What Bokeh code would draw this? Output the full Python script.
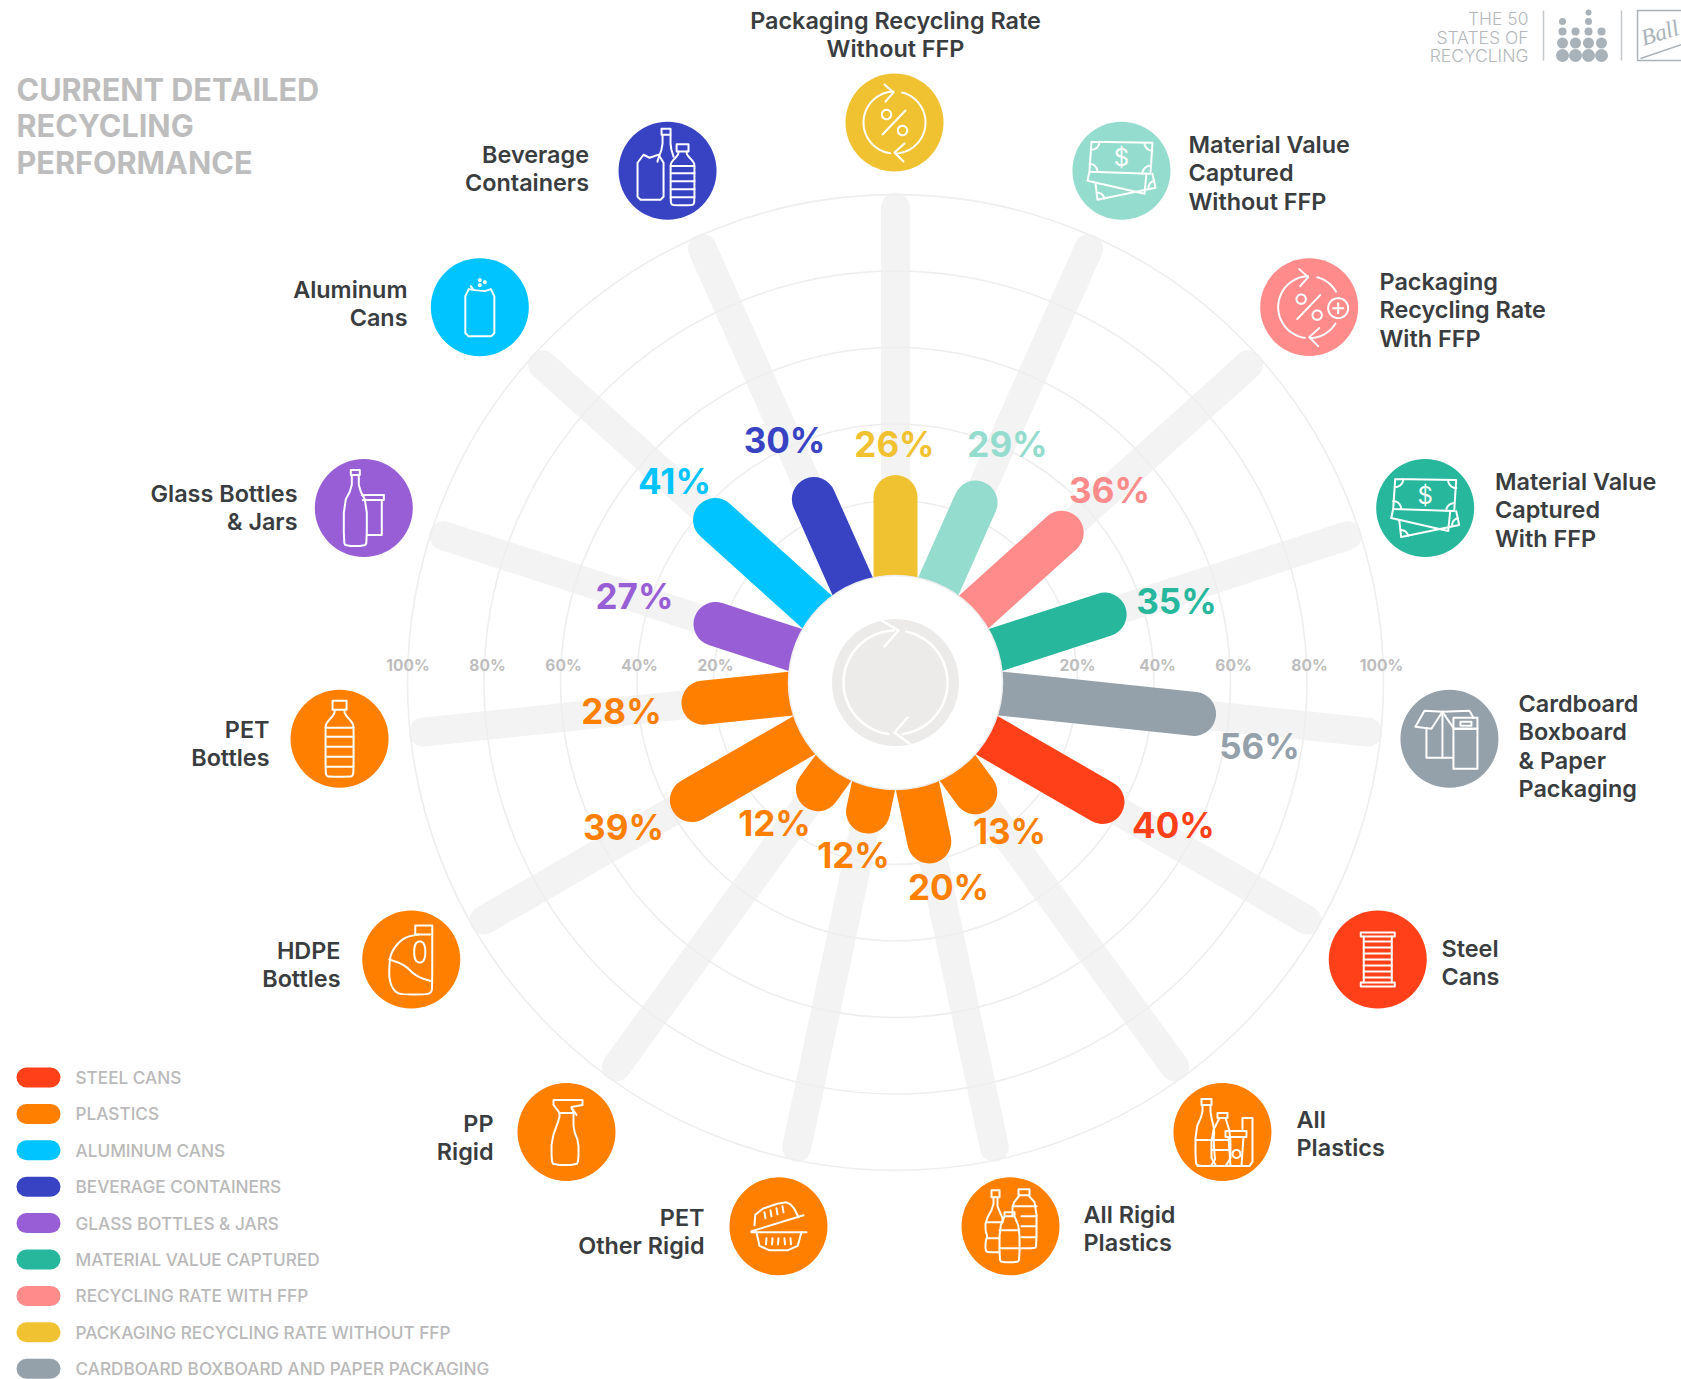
import math
from bokeh.plotting import figure
from bokeh.models import Range1d
from bokeh.core.properties import value
from bokeh.embed import file_html
from bokeh.resources import INLINE

# ---------- data ----------
categories = ["Packaging Recycling Rate\nWithout FFP", "Material Value\nCaptured\nWithout FFP",
              "Packaging\nRecycling Rate\nWith FFP", "Material Value\nCaptured\nWith FFP",
              "Cardboard\nBoxboard\n& Paper\nPackaging", "Steel\nCans", "All\nPlastics",
              "All Rigid\nPlastics", "PET\nOther Rigid", "PP\nRigid", "HDPE\nBottles", "PET\nBottles",
              "Glass Bottles\n& Jars", "Aluminum\nCans", "Beverage\nContainers"]
values = [26, 29, 36, 35, 56, 40, 13, 20, 12, 12, 39, 28, 27, 41, 30]
colors = ["#f0c232", "#94dccd", "#ff8b8b", "#26b79c", "#94a1ab", "#ff4018", "#ff7f00", "#ff7f00",
          "#ff7f00", "#ff7f00", "#ff7f00", "#ff7f00", "#985ed6", "#00c4ff", "#3843c4"]
ring_ticks = [20, 40, 60, 80, 100]
legend_names = ["STEEL CANS", "PLASTICS", "ALUMINUM CANS", "BEVERAGE CONTAINERS", "GLASS BOTTLES & JARS",
                "MATERIAL VALUE CAPTURED", "RECYCLING RATE WITH FFP", "PACKAGING RECYCLING RATE WITHOUT FFP",
                "CARDBOARD BOXBOARD AND PAPER PACKAGING"]
legend_colors = ["#ff4018", "#ff7f00", "#00c4ff", "#3843c4", "#985ed6", "#26b79c", "#ff8b8b", "#f0c232", "#94a1ab"]
title_lines = ["CURRENT DETAILED", "RECYCLING", "PERFORMANCE"]
logo_lines = ["THE 50", "STATES OF", "RECYCLING"]

# ---------- layout ----------
CX, CY = 895, 682
R0, PER = 105.5, 3.825
ICON_CX, ICON_CY, ICON_R = 894, 680, 558
STEP = 24
BAR_PAD = 2.5
def rad(v): return R0 + PER * v
def polar(angle, r, cx=CX, cy=CY):
    t = math.radians(angle)
    return cx + r * math.sin(t), cy - r * math.cos(t)

value_label_xy = [(894, 443.5), (1007, 443.5), (1109, 489), (1176, 600), (1259, 745), (1173, 824), (1009, 830),
                  (948, 886), (853, 854), (774, 822), (623, 826), (621, 710), (634, 595), (674, 480), (784, 439)]
tick_left_x = [715, 639, 563, 487, 407.5]
tick_right_x = [1077, 1157, 1233, 1309, 1381]
# (x anchor, align, y of first line)
cat_anchor = [(895, "center", 19.5), (1188, "left", 144), (1379, "left", 281), (1494.5, "left", 481),
              (1518, "left", 703), (1441, "left", 948), (1296, "left", 1119), (1083, "left", 1214),
              (704, "right", 1217), (493, "right", 1123), (340, "right", 950), (269, "right", 729),
              (297, "right", 493), (407, "right", 288.5), (588.5, "right", 154)]

p = figure(width=1681, height=1379, x_range=Range1d(0, 1681), y_range=Range1d(1379, 0),
           output_backend="svg", toolbar_location=None, min_border=0)
p.axis.visible = False
p.grid.visible = False
p.outline_line_color = None
p.background_fill_color = "#ffffff"

FONT = value("Inter")
angles = [i * STEP for i in range(len(values))]

# tracks
tx0, ty0 = zip(*[polar(a, 60) for a in angles])
tx1, ty1 = zip(*[polar(a, rad(100) - 13) for a in angles])
p.segment(tx0, ty0, tx1, ty1, line_color="#f4f3f3", line_width=29, line_cap="round")
# rings
p.circle([CX] * 5, [CY] * 5, radius=[rad(t) for t in ring_ticks], fill_color=None,
         line_color="#efeeee", line_width=1.6)
# bars
bx0, by0 = zip(*[polar(a, 60) for a in angles])
bx1, by1 = zip(*[polar(a, rad(v) + BAR_PAD - 22) for a, v in zip(angles, values)])
p.segment(bx0, by0, bx1, by1, line_color=colors, line_width=44, line_cap="round")
# centre
p.circle([CX], [CY], radius=[107], fill_color="#ffffff", line_color="#eeeeee", line_width=1.5)
p.circle([CX], [CY], radius=[63.5], fill_color="#ecebea", line_color=None)

# ring tick labels
tick_txt = [f"{t}%" for t in ring_ticks]
p.text(tick_right_x + tick_left_x, [665] * 10,
       text=tick_txt * 2, text_font=FONT, text_font_style="bold", text_font_size="15.5px", text_color="#bdbdbd",
       text_align="center", text_baseline="middle")

# value labels
p.text([q[0] for q in value_label_xy], [q[1] for q in value_label_xy], text=[f"{v}%" for v in values],
       text_color=colors, text_font=FONT, text_font_style="bold", text_font_size="35px",
       text_align="center", text_baseline="middle")

# icons discs
ix, iy = zip(*[polar(a, ICON_R, ICON_CX, ICON_CY) for a in angles])
p.circle(ix, iy, radius=[49] * len(ix), fill_color=colors, line_color=None)

# ---------- icon line art (local px around each disc centre) ----------
def chaikin(pts, n=2, closed=False):
    for _ in range(n):
        out = []
        m = len(pts)
        rng = range(m) if closed else range(m - 1)
        if not closed: out.append(pts[0])
        for i in rng:
            a, b = pts[i], pts[(i + 1) % m]
            out.append((.75 * a[0] + .25 * b[0], .75 * a[1] + .25 * b[1]))
            out.append((.25 * a[0] + .75 * b[0], .25 * a[1] + .75 * b[1]))
        if not closed: out.append(pts[-1])
        pts = out
    if closed: pts = pts + [pts[0]]
    return pts
def rect(x0, y0, x1, y1): return [(x0, y0), (x1, y0), (x1, y1), (x0, y1), (x0, y0)]
def arc(cx, cy, r, a0, a1, n=40):
    return [(cx + r * math.sin(math.radians(a0 + (a1 - a0) * i / n)),
             cy - r * math.cos(math.radians(a0 + (a1 - a0) * i / n))) for i in range(n + 1)]
def T(shapes, dx=0, dy=0, s=1, sy=None):
    sy = s if sy is None else sy
    return [[(dx + x * s, dy + y * sy) for x, y in sh] for sh in shapes]

def water():
    body = chaikin([(-5, -29), (-5, -25), (-13, -16), (-14, -12), (-14, 0), (-14, 33), (-13, 37), (-10, 38), (10, 38), (13, 37),
                    (14, 33), (14, 0), (14, -12), (13, -16), (5, -25), (5, -29)], 1)
    return [rect(-7, -38, 7, -29), body] + [[(-14, y), (14, y)] for y in (-11, -2, 8, 18, 28)]

def loop(plus=False):
    a2 = [arc(0, 0, 31, 15, 60), arc(0, 0, 31, 122, 176)] if plus else [arc(0, 0, 31, 14, 176)]
    out = [arc(0, 0, 31, -2, -172), [(-10, -38), (-1, -30), (-9, -21)], [(10, 21), (0, 30), (9, 39)]] + a2
    out += [arc(-8, -8, 4.7, 0, 360), arc(8, 8, 4.7, 0, 360), [(11, -12), (-12, 12)]]
    if plus:
        out += [arc(29, 1, 10, 0, 360), [(24, 1), (34, 1)], [(29, -4), (29, 6)]]
    return out
def money():
    out = [[(-30, -29), (31, -28), (29, 3), (-32, 1), (-30, -29)],
           [(-32, 1), (-34, 10), (23, 23), (25, 3)],
           [(-26, 12), (-24, 29), (34, 17), (31, 3)]]
    for c, a in (((-30, -29), 90), ((31, -28), 180), ((29, 3), 270), ((-32, 1), 0)):
        out.append(arc(c[0], c[1], 8, a, a + 90, 10))
    out += [arc(-24, 29, 7, 0, 80, 8), arc(34, 17, 7, 270, 350, 8)]
    return out
def cardboard():
    return [[(-34, -12), (-25, -28), (-7, -27), (-18, -10), (-34, -12)], [(-7, -27), (4, -11)],
            [(-7, -27), (20, -28), (24, -21)], [(-23, -11), (-23, 19), (4, 19)], [(-7, -27), (-7, 19)],
            rect(4, -10, 28, 30), rect(4, -21, 28, -10), rect(11, -17, 22, -13)]
def steel():
    return [rect(-17, -27, 17, -23), rect(-17, 23, 17, 27), [(-14, -23), (-14, 23)], [(14, -23), (14, 23)]] + \
           [[(-14, y), (14, y)] for y in (-18, -12, -6, 0, 6, 12, 18)]
def all_plastics():
    big = chaikin([(-20, -27), (-20, -18), (-27, -2), (-27, 30), (-25, 34), (-7, 34), (-9, 8), (-8, -2), (-12, -18), (-12, -27)], 1)
    mid = chaikin([(-3, -14), (-11, 2), (-11, 34), (8, 34), (8, 2), (3, -14)], 1)
    bag = [[(20, -3), (20, -14), (30, -14), (30, 30), (27, 34)]]
    cup = [[(6, -1), (22, -1)], rect(3, -1, 24, 5), [(6, 5), (8, 34)], [(21, 5), (19, 34)], arc(14, 22, 4, 0, 360)]
    return [rect(-21, -33, -11, -27), big, rect(-5, -19, 5, -14), mid, [(-25, 34), (27, 34)], [(-27, 8), (-9, 8)],
            [(-11, 8), (6, 8)], [(-11, 18), (7, 18)]] + bag + cup
def all_rigid():
    left = chaikin([(-17, -29), (-17, -20), (-25, -5), (-25, 5), (-23, 10), (-25, 15), (-25, 24), (-23, 26), (-11, 26)], 1)
    out = [rect(-19, -36, -11, -29), left, [(-13, -29), (-13, -20), (-8, -8), (-8, -4)], [(-24, -4), (-8, -4)], [(-24, 12), (-11, 12)]]
    out += [rect(8, -37, 19, -31), chaikin([(9, -31), (2, -22), (2, -10)], 1), chaikin([(18, -31), (26, -22), (26, 20), (24, 22), (9, 22)], 1),
            [(2, -20), (26, -20)], [(11, -10), (26, -10)], [(11, 0), (26, 0)], [(11, 11), (26, 11)]]
    out += [rect(-6, -14, 4, -10), chaikin([(-6, -10), (-11, 2), (-11, 33), (-9, 36), (7, 36), (9, 33), (9, 2), (4, -10)], 1),
            [(-11, 4), (9, 4)], [(-11, 22), (9, 22)]]
    return out
def pp():
    return [chaikin([(-7, -19), (-7, -14), (-15, 8), (-15, 28), (-13, 33), (10, 33), (12, 28), (12, 10), (7, -2), (7, -19)], 1),
            [(-7, -19), (7, -19)], [(-7, -19), (-13, -27), (-13, -32), (16, -32), (16, -27), (5, -25), (7, -19)],
            [(5, -24), (10, -17)]]
def pet_other():
    out = [[(-27, 6), (28, 6)], chaikin([(-22, 6), (-18, 24), (18, 24), (23, 6)], 1),
           [(-27, 5), (25, -11)], chaikin([(-24, -1), (-23, -15), (6, -25), (14, -21), (20, -9)], 1)]
    out += [[(x, 12), (x + (0.5 if x > 0 else -0.5), 18)] for x in (-12, -6, 0, 6, 12)]
    out += [[(x, -14 - i * 2), (x + 1, -8 - i * 2)] for i, x in enumerate((-14, -8, -2, 4))]
    return out
def hdpe():
    return [rect(4, -34, 21, -25),
            chaikin([(7, -25), (-8, -22), (-20, -8), (-22, 5), (-22, 22), (-16, 33), (-8, 35), (15, 35), (20, 33), (21, 28), (21, -25)], 2),
            chaikin([(3, -18), (14, -18), (14, 3), (3, 3)], 2, closed=True),
            chaikin([(-22, 0), (-7, 5), (5, 17), (21, 22)], 3)]
def pet(): return water()
def glass():
    bottle = chaikin([(-12, -33), (-12, -20), (-20, -5), (-20, 34), (-18, 38), (1, 38), (3, 34), (3, -5), (-5, -20), (-5, -33)], 1)
    return [rect(-13, -38, -4, -33), bottle, [(-2, -13), (20, -13)], rect(-1, -13, 20, -8)[1:4],
            [(18, -8), (18, 27), (3, 27)]]
def aluminum():
    can = [(-11, -18), (-14.5, -11), (-14.5, 26), (-11.5, 29), (11.5, 29), (14.5, 26), (14.5, -11), (11, -18), (5, -16), (-5, -17), (-11, -18)]
    return [can, arc(0, -27, 1, 0, 360, 8), arc(5, -25, 1, 0, 360, 8), arc(0, -22, 1, 0, 360, 8), [(-9, -21), (-7, -18)]]
def beverage():
    b = T(water(), 15, 4, 0.85, 0.8)
    g = [chaikin([(-5, -36), (-5, -24), (-10, -10), (-10, -9)], 1), rect(-6, -42, 3, -36),
         chaikin([(3, -36), (3, -24), (6, -14)], 1)]
    c = [(-24, -16), (-30, -8), (-30, 26), (-27, 29), (-7, 29), (-4, 26), (-4, -8), (-9, -16), (-18, -13), (-24, -16)]
    return b + g + [c]

icons = [loop(), money(), loop(True), money(), cardboard(), steel(), all_plastics(), all_rigid(), pet_other(),
         pp(), hdpe(), pet(), glass(), aluminum(), beverage()]
xs, ys = [], []
for (cx_, cy_), shapes in zip(zip(ix, iy), icons):
    for sh in shapes:
        xs.append([cx_ + q[0] for q in sh])
        ys.append([cy_ + q[1] for q in sh])
p.multi_line(xs, ys, line_color="#ffffff", line_width=2, line_cap="round", line_join="round")
p.text([ix[1], ix[3]], [iy[1] - 13, iy[3] - 13], text=["$", "$"], text_color="#ffffff", text_font=FONT,
       text_font_size="24px", text_align="center", text_baseline="middle")

# centre recycling arcs
c_shapes = [arc(0, 0, 52, 12, 172), arc(0, 0, 52, -2, -172), [(-14, -62), (3, -52), (-11, -36)], [(12, 35), (-1, 50), (15, 62)]]
p.multi_line([[CX + q[0] for q in s] for s in c_shapes], [[CY + q[1] for q in s] for s in c_shapes],
             line_color="#ffffff", line_width=2.5, line_cap="round", line_join="round")

# category labels
LH = 28.3
for cat, (ax, al, y0) in zip(categories, cat_anchor):
    lines = cat.split("\n")
    p.text([ax] * len(lines), [y0 + i * LH for i in range(len(lines))], text=lines, text_color="#3a3d40",
           text_font=value("Inter SemiBold"), text_font_size="23.4px", text_align=al, text_baseline="middle")

# title
p.text([16] * 3, [88.5, 125, 162], text=title_lines, text_color="#bdbdbd", text_font=FONT, text_font_style="bold",
       text_font_size="30.6px", text_align="left", text_baseline="middle")

# legend
ly = [1077 + i * 36.4 for i in range(len(legend_names))]
p.segment([26] * 9, ly, [50] * 9, ly, line_color=legend_colors, line_width=20, line_cap="round")
p.text([75] * 9, ly, text=legend_names, text_color="#b9b9b9", text_font=value("Inter Medium"), text_font_size="17.2px",
       text_align="left", text_baseline="middle")

# logo block
LOGO = "#a9b2b9"
p.text([1528] * 3, [18, 37, 55], text=logo_lines, text_color="#b4b8bb", text_font=value("Inter Light"), text_font_size="17.5px",
       text_align="right", text_baseline="middle")
p.segment([1543, 1621], [10, 10], [1543, 1621], [60, 60], line_color="#c4c8cb", line_width=1.5)
dot_x = [1562, 1575, 1588, 1601, 1562, 1575, 1588, 1601, 1562, 1575, 1588, 1601, 1562, 1588, 1588]
dot_y = [55, 55, 55, 55, 42.5, 42.5, 42.5, 42.5, 31, 31, 31, 31, 21, 21, 12]
dot_r = [6.5] * 4 + [5.5] * 4 + [4] * 4 + [3.5, 3.5, 3]
p.circle(dot_x, dot_y, radius=dot_r, fill_color=LOGO, line_color=None)
p.line([1690, 1637, 1637, 1690], [10, 10, 60, 60], line_color=LOGO, line_width=1.5)
p.line([1640, 1681], [58, 44], line_color=LOGO, line_width=1.5)
p.text([1641], [38], text=["Ball"], angle=[0.3], text_color=LOGO, text_font=value("Liberation Serif"),
       text_font_style="italic", text_font_size="23px", text_align="left", text_baseline="middle")

open("out.html", "w").write(file_html(p, INLINE))
